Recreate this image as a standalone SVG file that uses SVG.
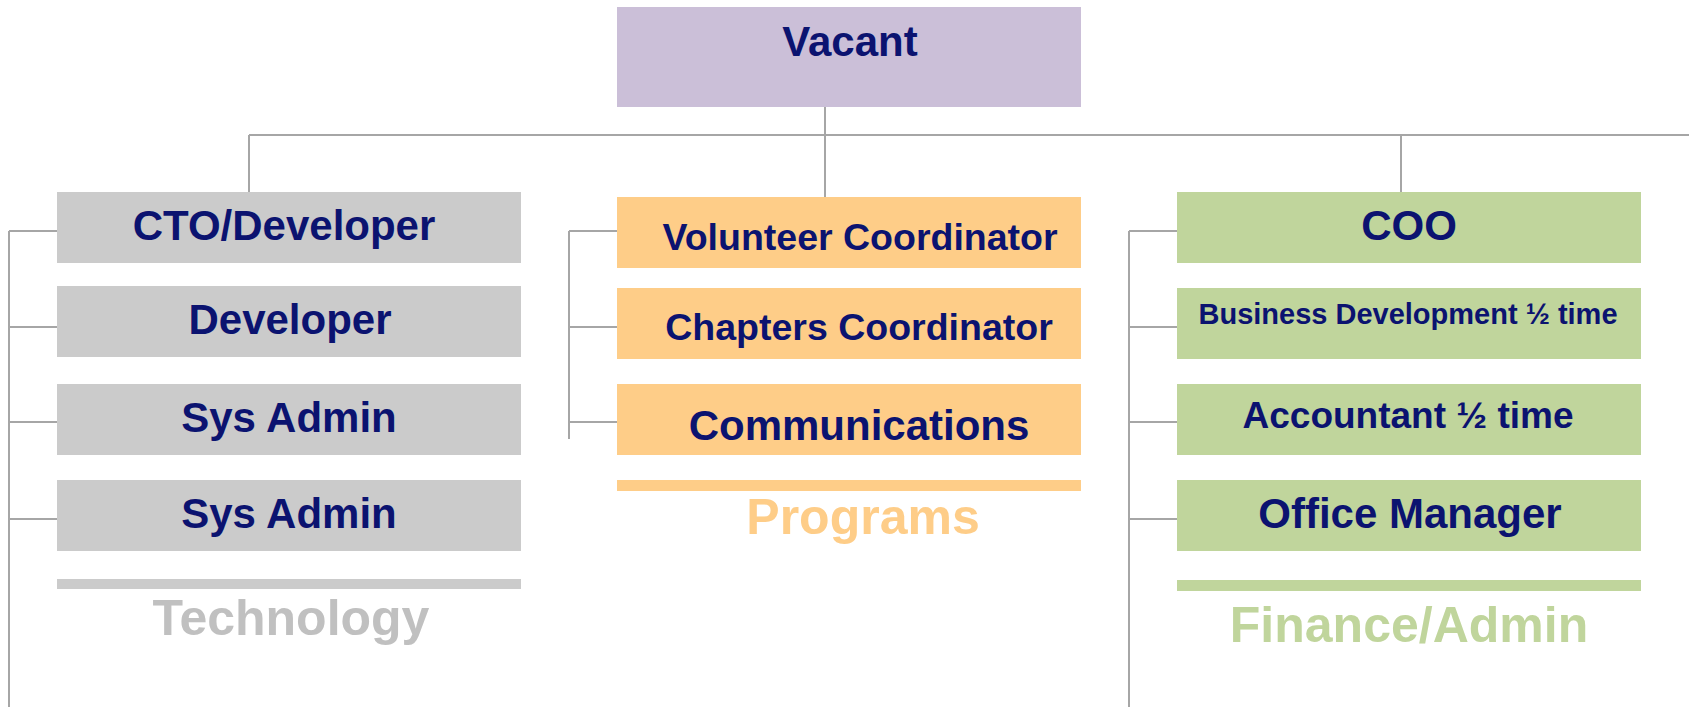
<svg xmlns="http://www.w3.org/2000/svg" width="1694" height="707" viewBox="0 0 1694 707">
  <style>
    .conn { stroke: #a6a6a6; stroke-width: 2; fill: none; }
    .name { font-family: "Liberation Sans", Arial, sans-serif; font-weight: bold; fill: #0b1370; text-anchor: middle; }
    .dept { font-family: "Liberation Sans", Arial, sans-serif; font-weight: bold; text-anchor: middle; font-size: 50px; }
    .purple { fill: #cbbfd8; }
    .gray { fill: #cbcbcb; }
    .orange { fill: #fecd88; }
    .green { fill: #c0d59c; }
  </style>
  <rect width="1694" height="707" fill="#ffffff"/>

  <!-- connectors -->
  <g id="connectors">
    <path class="conn" d="M249 135 H1689"/>
    <path class="conn" d="M825 87 V198"/>
    <path class="conn" d="M249 135 V199"/>
    <path class="conn" d="M1401 135 V199"/>
    <!-- technology branch -->
    <path class="conn" d="M9 231 V707 M9 231 H57 M9 327 H57 M9 422 H57 M9 519 H57"/>
    <!-- programs branch -->
    <path class="conn" d="M569 231 V439 M569 231 H617 M569 327 H617 M569 422 H617"/>
    <!-- finance/admin branch -->
    <path class="conn" d="M1129 231 V707 M1129 231 H1177 M1129 327 H1177 M1129 422 H1177 M1129 519 H1177"/>
  </g>

  <!-- top -->
  <g id="vacant">
    <rect class="purple" x="617" y="7" width="464" height="100"/>
    <text class="name" x="850" y="56" font-size="42">Vacant</text>
  </g>

  <!-- technology column -->
  <g id="cto">
    <rect class="gray" x="57" y="192" width="464" height="71"/>
    <text class="name" x="284" y="240" font-size="42">CTO/Developer</text>
  </g>
  <g id="developer">
    <rect class="gray" x="57" y="286" width="464" height="71"/>
    <text class="name" x="290" y="334" font-size="42">Developer</text>
  </g>
  <g id="sysadmin1">
    <rect class="gray" x="57" y="384" width="464" height="71"/>
    <text class="name" x="289" y="432" font-size="42">Sys Admin</text>
  </g>
  <g id="sysadmin2">
    <rect class="gray" x="57" y="480" width="464" height="71"/>
    <text class="name" x="289" y="528" font-size="42">Sys Admin</text>
  </g>
  <g id="technology">
    <rect class="gray" x="57" y="579" width="464" height="10"/>
    <text class="dept" x="291" y="635" fill="#c0c0c0">Technology</text>
  </g>

  <!-- programs column -->
  <g id="volunteer">
    <rect class="orange" x="617" y="197" width="464" height="71"/>
    <text class="name" x="860" y="250" font-size="37.5">Volunteer Coordinator</text>
  </g>
  <g id="chapters">
    <rect class="orange" x="617" y="288" width="464" height="71"/>
    <text class="name" x="859" y="340" font-size="37.5">Chapters Coordinator</text>
  </g>
  <g id="communications">
    <rect class="orange" x="617" y="384" width="464" height="71"/>
    <text class="name" x="859" y="440" font-size="42">Communications</text>
  </g>
  <g id="programs">
    <rect class="orange" x="617" y="480" width="464" height="11"/>
    <text class="dept" x="863" y="534" fill="#fecd88">Programs</text>
  </g>

  <!-- finance/admin column -->
  <g id="coo">
    <rect class="green" x="1177" y="192" width="464" height="71"/>
    <text class="name" x="1409" y="240" font-size="42">COO</text>
  </g>
  <g id="bizdev">
    <rect class="green" x="1177" y="288" width="464" height="71"/>
    <text class="name" x="1408" y="324" font-size="29">Business Development ½ time</text>
  </g>
  <g id="accountant">
    <rect class="green" x="1177" y="384" width="464" height="71"/>
    <text class="name" x="1408" y="428" font-size="37">Accountant ½ time</text>
  </g>
  <g id="office">
    <rect class="green" x="1177" y="480" width="464" height="71"/>
    <text class="name" x="1410" y="528" font-size="42">Office Manager</text>
  </g>
  <g id="finance">
    <rect class="green" x="1177" y="580" width="464" height="11"/>
    <text class="dept" x="1409" y="642" fill="#c0d59c">Finance/Admin</text>
  </g>
</svg>
